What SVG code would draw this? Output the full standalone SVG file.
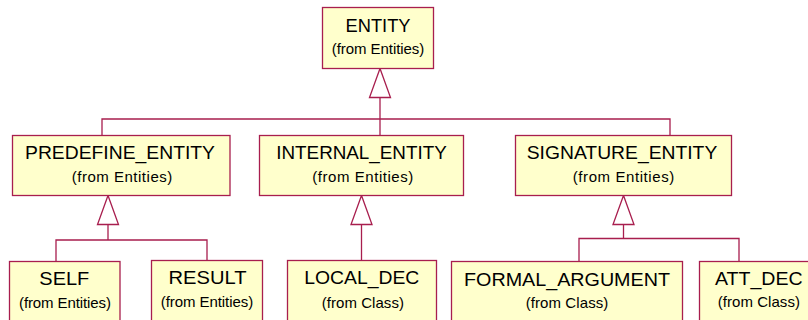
<svg xmlns="http://www.w3.org/2000/svg" width="808" height="320" viewBox="0 0 808 320">
  <style>
    .box { fill: #FFFFCC; stroke: #A81E4E; stroke-width: 1.3; }
    .name { font-family: "Liberation Sans", Arial, sans-serif; font-size: 19px; fill: #000; text-anchor: middle; }
    .from { font-family: "Liberation Sans", Arial, sans-serif; font-size: 15px; fill: #000; text-anchor: middle; }
    .edge { fill: none; stroke: #A81E4E; stroke-width: 1.3; }
    .head { fill: #FFFFFF; stroke: #A81E4E; stroke-width: 1.3; stroke-linejoin: miter; }
  </style>
  <rect width="808" height="320" fill="#FFFFFF"/>

  <!-- generalization connectors -->
  <g id="connectors">
    <!-- to ENTITY -->
    <polyline class="edge" points="380,97.5 380,135.5"/>
    <polyline class="edge" points="102,135.5 102,119 670,119 670,135.5"/>
    <polygon class="head" points="380,68.5 369.5,97.5 390.5,97.5"/>
    <!-- to PREDEFINE_ENTITY -->
    <polyline class="edge" points="108,224.5 108,240"/>
    <polyline class="edge" points="56,261.5 56,240 207,240 207,260.5"/>
    <polygon class="head" points="108,195.5 97.5,224.5 118.5,224.5"/>
    <!-- to INTERNAL_ENTITY -->
    <polyline class="edge" points="361.5,224.5 361.5,260.5"/>
    <polygon class="head" points="361.5,195.5 351,224.5 372,224.5"/>
    <!-- to SIGNATURE_ENTITY -->
    <polyline class="edge" points="623.5,224.5 623.5,238.5"/>
    <polyline class="edge" points="579,261.5 579,238.5 739,238.5 739,261.5"/>
    <polygon class="head" points="623.5,195.5 613,224.5 634,224.5"/>
  </g>

  <g id="entity">
    <rect class="box" x="322.5" y="7.5" width="111" height="61"/>
    <text class="name" x="378" y="32" textLength="65" lengthAdjust="spacingAndGlyphs">ENTITY</text>
    <text class="from" x="378" y="53.5" textLength="92.5" lengthAdjust="spacing">(from Entities)</text>
  </g>

  <g id="predefine_entity">
    <rect class="box" x="12.5" y="135.5" width="217.5" height="60"/>
    <text class="name" x="120" y="159" textLength="190" lengthAdjust="spacingAndGlyphs">PREDEFINE_ENTITY</text>
    <text class="from" x="122" y="181.5" textLength="100.5" lengthAdjust="spacing">(from Entities)</text>
  </g>

  <g id="internal_entity">
    <rect class="box" x="259.5" y="135.5" width="204" height="60"/>
    <text class="name" x="361.5" y="159" textLength="170.5" lengthAdjust="spacingAndGlyphs">INTERNAL_ENTITY</text>
    <text class="from" x="362.8" y="181.5" textLength="101" lengthAdjust="spacing">(from Entities)</text>
  </g>

  <g id="signature_entity">
    <rect class="box" x="515.5" y="135.5" width="216" height="60"/>
    <text class="name" x="622" y="159" textLength="190.5" lengthAdjust="spacingAndGlyphs">SIGNATURE_ENTITY</text>
    <text class="from" x="623.5" y="181.5" textLength="101.5" lengthAdjust="spacing">(from Entities)</text>
  </g>

  <g id="self">
    <rect class="box" x="9.5" y="261.5" width="110.5" height="70"/>
    <text class="name" x="64.3" y="285" textLength="50" lengthAdjust="spacingAndGlyphs">SELF</text>
    <text class="from" x="65" y="308" textLength="92" lengthAdjust="spacing">(from Entities)</text>
  </g>

  <g id="result">
    <rect class="box" x="151.5" y="260.5" width="111" height="70"/>
    <text class="name" x="207.5" y="283.5" textLength="78" lengthAdjust="spacingAndGlyphs">RESULT</text>
    <text class="from" x="207" y="307.3" textLength="92.3" lengthAdjust="spacing">(from Entities)</text>
  </g>

  <g id="local_dec">
    <rect class="box" x="287.5" y="260.5" width="149" height="70"/>
    <text class="name" x="361.8" y="284.3" textLength="115" lengthAdjust="spacingAndGlyphs">LOCAL_DEC</text>
    <text class="from" x="362.8" y="308" textLength="82.3" lengthAdjust="spacing">(from Class)</text>
  </g>

  <g id="formal_argument">
    <rect class="box" x="451.5" y="261.5" width="231" height="70"/>
    <text class="name" x="567" y="285.5" textLength="206" lengthAdjust="spacingAndGlyphs">FORMAL_ARGUMENT</text>
    <text class="from" x="567" y="307.7" textLength="82.6" lengthAdjust="spacing">(from Class)</text>
  </g>

  <g id="att_dec">
    <rect class="box" x="699.5" y="261.5" width="130" height="70"/>
    <text class="name" x="758.8" y="285" textLength="87.7" lengthAdjust="spacingAndGlyphs">ATT_DEC</text>
    <text class="from" x="758.8" y="307.3" textLength="82.3" lengthAdjust="spacing">(from Class)</text>
  </g>
</svg>
